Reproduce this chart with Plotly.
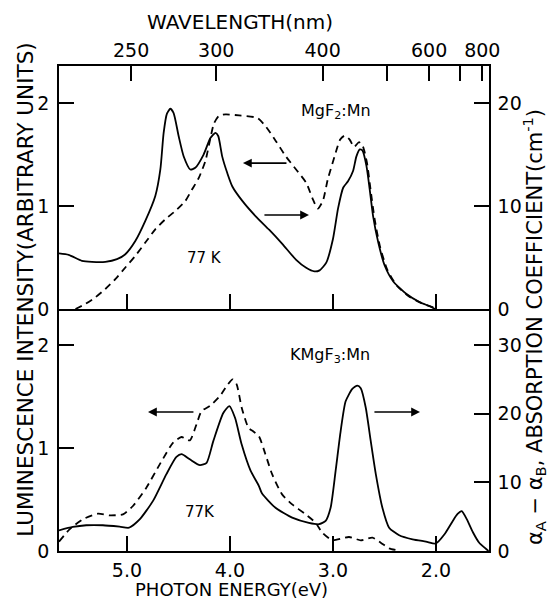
import plotly.graph_objects as go

# ---------------- data ----------------
# Top panel: MgF2:Mn
mgf2_abs_E = [5.66, 5.566, 5.437, 5.34, 5.21, 5.097, 5.016, 4.919, 4.822, 4.725, 4.676, 4.644, 4.612,
              4.579, 4.547, 4.498, 4.45, 4.385, 4.337, 4.256, 4.19, 4.14, 4.114, 4.075, 4.026, 3.977,
              3.88, 3.75, 3.62, 3.49, 3.36, 3.26, 3.18, 3.13, 3.065, 3.0, 2.95, 2.90, 2.854, 2.805,
              2.773, 2.74, 2.714, 2.675, 2.643, 2.61, 2.56, 2.497, 2.416, 2.286, 2.156, 2.058, 2.01]
mgf2_abs_A = [5.4, 5.26, 4.68, 4.58, 4.58, 4.84, 5.32, 6.6, 8.55, 10.97, 13.55, 17.1, 18.97,
              19.45, 19.03, 16.77, 14.84, 13.55, 13.71, 15.0, 16.6, 17.1, 16.8, 14.8, 13.2, 11.9,
              10.5, 9.0, 7.7, 6.3, 4.8, 4.0, 3.65, 3.75, 4.5, 6.8, 9.8, 11.8, 12.4, 13.4,
              14.8, 15.5, 15.4, 13.9, 11.6, 9.0, 6.45, 4.2, 2.7, 1.45, 0.65, 0.26, 0.0]

mgf2_lum_E = [5.5, 5.405, 5.307, 5.21, 5.113, 5.016, 4.919, 4.822, 4.725, 4.628, 4.53, 4.434, 4.369,
              4.304, 4.238, 4.19, 4.156, 4.107, 4.042, 3.912, 3.733, 3.65, 3.554, 3.456, 3.358,
              3.26, 3.195, 3.147, 3.098, 3.05, 2.985, 2.93, 2.886, 2.838, 2.795, 2.747, 2.71,
              2.67, 2.635, 2.595, 2.545, 2.475, 2.38, 2.25, 2.12, 2.026, 2.0]
mgf2_lum_I = [0.0, 0.048, 0.113, 0.194, 0.29, 0.403, 0.516, 0.645, 0.774, 0.871, 0.952, 1.048, 1.16,
              1.27, 1.44, 1.66, 1.80, 1.877, 1.89, 1.88, 1.855, 1.77, 1.63, 1.48, 1.355,
              1.226, 1.065, 0.975, 1.05, 1.26, 1.48, 1.645, 1.684, 1.645, 1.574, 1.62, 1.58,
              1.42, 1.16, 0.87, 0.613, 0.387, 0.226, 0.113, 0.048, 0.016, 0.0]

# Bottom panel: KMgF3:Mn
kmgf3_abs_E = [5.66, 5.526, 5.396, 5.234, 5.071, 4.98, 4.877, 4.747, 4.617, 4.52, 4.47, 4.39, 4.292,
               4.227, 4.162, 4.065, 4.006, 3.951, 3.886, 3.80, 3.72, 3.69, 3.558, 3.396, 3.234,
               3.136, 3.071, 3.023, 2.974, 2.925, 2.877, 2.812, 2.763, 2.73, 2.682, 2.633, 2.584,
               2.52, 2.455, 2.357, 2.227, 2.097, 2.0, 1.919, 1.838, 1.79, 1.75, 1.70, 1.64, 1.58,
               1.525, 1.49]
kmgf3_abs_A = [3.0, 3.5, 3.75, 3.75, 3.54, 3.39, 4.6, 7.3, 11.2, 13.7, 14.1, 13.35, 12.5,
               12.85, 16.0, 20.1, 21.1, 19.4, 15.5, 11.7, 9.5, 8.4, 6.3, 4.86, 4.1,
               3.9, 4.4, 6.3, 11.7, 17.5, 21.8, 23.6, 24.1, 23.7, 20.9, 16.0, 11.2,
               6.3, 3.4, 2.3, 1.7, 1.37, 1.1, 2.4, 4.35, 5.4, 5.8, 4.6, 2.7, 1.2,
               0.45, 0.0]

kmgf3_lum_E = [5.66, 5.558, 5.43, 5.282, 5.169, 5.039, 4.942, 4.812, 4.682, 4.552, 4.47, 4.39, 4.325,
               4.276, 4.195, 4.097, 4.032, 3.974, 3.935, 3.886, 3.821, 3.773, 3.72, 3.656, 3.59,
               3.494, 3.396, 3.266, 3.169, 3.104, 3.006, 2.844, 2.73, 2.617, 2.536, 2.455, 2.373]
kmgf3_lum_I = [0.09, 0.21, 0.307, 0.362, 0.346, 0.356, 0.437, 0.615, 0.841, 1.052, 1.107, 1.074, 1.23,
               1.359, 1.408, 1.505, 1.602, 1.667, 1.618, 1.392, 1.197, 1.16, 1.117, 0.94, 0.744,
               0.55, 0.453, 0.356, 0.275, 0.178, 0.104, 0.136, 0.104, 0.13, 0.081, 0.026, 0.006]

energy_ticks = [5, 4, 3, 2]
energy_labels = ["5.0", "4.0", "3.0", "2.0"]
wavelength_ticks = [250, 300, 400, 500, 600, 700, 800]
wavelength_labels = ["250", "300", "400", "", "600", "", "800"]
lum_ticks = [0, 1, 2]
abs_ticks_top = [0, 10, 20]
abs_ticks_bottom = [0, 10, 20, 30]

# ---------------- figure ----------------
FONT = "DejaVu Sans"
LW = 1.8
fig = go.Figure()

fig.add_trace(go.Scatter(x=mgf2_lum_E, y=mgf2_lum_I, xaxis="x2", yaxis="y3", mode="lines",
                         line=dict(color="black", width=LW, dash="7px,5px", shape="spline", smoothing=0.6)))
fig.add_trace(go.Scatter(x=mgf2_abs_E, y=mgf2_abs_A, xaxis="x2", yaxis="y4", mode="lines",
                         line=dict(color="black", width=LW, shape="spline", smoothing=0.6)))
fig.add_trace(go.Scatter(x=kmgf3_lum_E, y=kmgf3_lum_I, xaxis="x", yaxis="y", mode="lines",
                         line=dict(color="black", width=LW, dash="7px,5px", shape="spline", smoothing=0.6)))
fig.add_trace(go.Scatter(x=kmgf3_abs_E, y=kmgf3_abs_A, xaxis="x", yaxis="y2", mode="lines",
                         line=dict(color="black", width=LW, shape="spline", smoothing=0.6)))
# invisible trace to activate top wavelength axis
fig.add_trace(go.Scatter(x=[1240.0 / w for w in wavelength_ticks], y=[None] * len(wavelength_ticks),
                         xaxis="x3", yaxis="y3", mode="lines", hoverinfo="skip"))

XR = [5.66, 1.485]
axcommon = dict(showline=True, linecolor="black", linewidth=1.5, ticks="inside", ticklen=15,
                tickwidth=1.5, tickcolor="black", showgrid=False, zeroline=False,
                tickfont=dict(family=FONT, size=19, color="black"))

fig.update_layout(
    width=558, height=599, showlegend=False,
    paper_bgcolor="white", plot_bgcolor="white",
    margin=dict(l=59, r=69, t=66, b=48),
    xaxis=dict(domain=[0, 1], anchor="y", range=XR, tickvals=energy_ticks, ticktext=energy_labels,
               ticklabelstandoff=1, **axcommon),
    xaxis2=dict(domain=[0, 1], anchor="y3", range=XR, tickvals=energy_ticks, showticklabels=False,
                **axcommon),
    xaxis3=dict(overlaying="x2", side="top", anchor="y3", range=XR,
                tickvals=[1240.0 / w for w in wavelength_ticks], ticktext=wavelength_labels,
                ticklabelstandoff=0, **axcommon),
    yaxis=dict(domain=[0, 0.499], anchor="x", range=[0, 2.35], tickvals=lum_ticks, ticklabelstandoff=4,
               **axcommon),
    yaxis2=dict(overlaying="y", side="right", anchor="x", range=[0, 35.25], tickvals=abs_ticks_bottom,
                ticklabelstandoff=3, **axcommon),
    yaxis3=dict(domain=[0.499, 1], anchor="x2", range=[0, 2.36], tickvals=lum_ticks, ticklabelstandoff=4,
                **axcommon),
    yaxis4=dict(overlaying="y3", side="right", anchor="x2", range=[0, 23.6], tickvals=abs_ticks_top,
                ticklabelstandoff=3, **axcommon),
)

ann = []
ann.append(dict(text="PHOTON ENERGY(eV)", xref="paper", yref="paper", x=0.402, y=-0.0784,
                showarrow=False, font=dict(family=FONT, size=18, color="black"),
                xanchor="center", yanchor="middle", borderpad=0))
ann.append(dict(text="WAVELENGTH(nm)", xref="paper", yref="paper", x=0.421, y=1.0897,
                showarrow=False, font=dict(family=FONT, size=20, color="black"),
                xanchor="center", yanchor="middle"))
ann.append(dict(text="LUMINESCENCE INTENSITY(ARBITRARY UNITS)", xref="paper", yref="paper",
                x=-0.08, y=0.538, textangle=-90, showarrow=False,
                font=dict(family=FONT, size=21.5, color="black"), xanchor="center", yanchor="middle"))
ann.append(dict(text="α<sub>A</sub> − α<sub>B</sub>, ABSORPTION COEFFICIENT(cm<sup>-1</sup>)",
                xref="paper", yref="paper", x=1.105, y=0.462, textangle=-90, showarrow=False,
                font=dict(family=FONT, size=21, color="black"), xanchor="center", yanchor="middle",
                borderpad=0))

lf = dict(family=FONT, size=16, color="black")
ann.append(dict(text="MgF<sub>2</sub>:Mn", xref="x2", yref="y3", x=2.97, y=1.92, showarrow=False, font=lf))
ann.append(dict(text="77 K", xref="x2", yref="y3", x=4.243, y=0.495, showarrow=False,
                font=dict(family=FONT, size=15, color="black")))
ann.append(dict(text="KMgF<sub>3</sub>:Mn", xref="x", yref="y", x=3.03, y=1.90, showarrow=False, font=lf))
ann.append(dict(text="77K", xref="x", yref="y", x=4.29, y=0.379, showarrow=False,
                font=dict(family=FONT, size=15, color="black")))

arrow = dict(showarrow=True, arrowhead=2, arrowsize=1.1, arrowwidth=1.6, arrowcolor="black", text="")
ann.append(dict(xref="x2", yref="y3", axref="x2", ayref="y3", x=3.874, y=1.417, ax=3.437, ay=1.417, **arrow))
ann.append(dict(xref="x2", yref="y3", axref="x2", ayref="y3", x=3.233, y=0.913, ax=3.680, ay=0.913, **arrow))
ann.append(dict(xref="x", yref="y", axref="x", ayref="y", x=4.796, y=1.35, ax=4.34, ay=1.35, **arrow))
ann.append(dict(xref="x", yref="y", axref="x", ayref="y", x=2.155, y=1.35, ax=2.612, ay=1.35, **arrow))
fig.update_layout(annotations=ann)

# remove the browser's default page margin so the 558x599 figure fills the window exactly
fig.write_html("out.html", config={"displayModeBar": False},
               post_script="document.body.style.margin='0';document.body.style.padding='0';")
